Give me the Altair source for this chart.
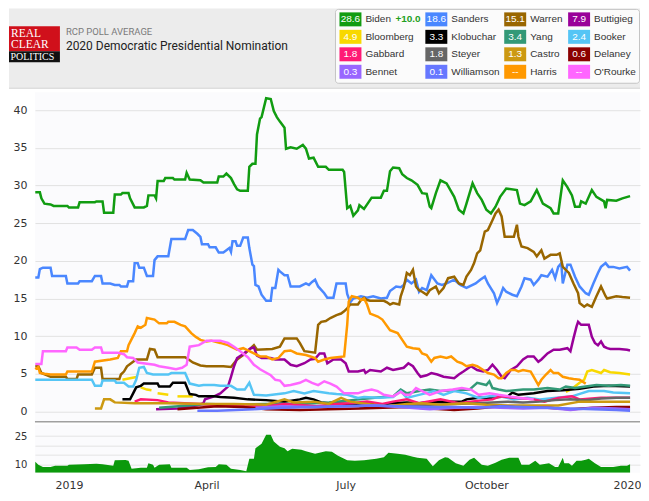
import altair as alt
import pandas as pd

# ------------------------------------------------------------------ data
NAMES = ["Biden", "Sanders", "Warren", "Buttigieg",
         "Bloomberg", "Klobuchar", "Yang", "Booker",
         "Gabbard", "Steyer", "Castro", "Delaney",
         "Bennet", "Williamson", "Harris", "O'Rourke"]
END_LABELS = ["28.6", "18.6", "15.1", "7.9",
              "4.9", "3.3", "3.4", "2.4",
              "1.8", "1.8", "1.3", "0.6",
              "0.3", "0.1", "--", "--"]
COLORS = ["#119c11", "#4a87ff", "#996600", "#990099",
          "#f8d800", "#000000", "#339977", "#55c5f5",
          "#ff1a75", "#666666", "#cc9911", "#8b0000",
          "#9966ff", "#6677ff", "#ff9900", "#ff66ff"]
LEAD_LABEL = "+10.0"
X_TICKS = ["2019-01-01", "2019-04-01", "2019-07-01", "2019-10-01", "2020-01-01"]
Y_TICKS = [0, 5, 10, 15, 20, 25, 30, 35, 40]
NAV_TICKS = [10, 15, 20, 25]

BIDEN = [("2018-12-10",29.1),("2018-12-13",29.1),("2018-12-14",28.3),("2018-12-16",27.6),("2018-12-20",27.5),("2018-12-22",27.3),("2018-12-31",27.3),("2019-01-01",27.1),("2019-01-07",27.1),("2019-01-08",27.8),("2019-01-18",27.8),("2019-01-19",27.9),("2019-01-23",27.9),("2019-01-24",26.4),("2019-01-30",26.4),("2019-01-31",28.8),("2019-02-04",28.8),("2019-02-05",29.0),("2019-02-09",29.0),("2019-02-10",28.3),("2019-02-13",27.1),("2019-02-19",27.1),("2019-02-21",27.3),("2019-02-22",28.7),("2019-02-26",28.7),("2019-02-27",28.3),("2019-02-28",30.6),("2019-03-04",30.6),("2019-03-05",31.0),("2019-03-10",31.0),("2019-03-11",30.8),("2019-03-18",30.8),("2019-03-19",31.7),("2019-03-21",30.8),("2019-03-28",30.7),("2019-03-30",30.4),("2019-04-08",30.4),("2019-04-09",31.2),("2019-04-12",31.2),("2019-04-14",31.6),("2019-04-17",31.0),("2019-04-19",30.2),("2019-04-21",29.5),("2019-04-23",29.3),("2019-04-28",29.3),("2019-04-29",32.5),("2019-05-01",32.9),("2019-05-03",32.9),("2019-05-04",36.8),("2019-05-06",38.9),("2019-05-07",39.1),("2019-05-10",41.6),("2019-05-13",41.5),("2019-05-15",39.9),("2019-05-17",39.1),("2019-05-19",38.5),("2019-05-22",37.7),("2019-05-23",34.9),("2019-05-26",35.1),("2019-05-30",34.9),("2019-06-03",35.4),("2019-06-05",34.9),("2019-06-07",33.6),("2019-06-10",33.7),("2019-06-13",32.5),("2019-06-18",32.5),("2019-06-20",32.1),("2019-06-29",32.1),("2019-06-30",31.8),("2019-07-02",27.0),("2019-07-04",27.3),("2019-07-06",26.0),("2019-07-09",26.7),("2019-07-10",27.4),("2019-07-13",26.9),("2019-07-18",28.4),("2019-07-24",28.4),("2019-07-26",29.3),("2019-07-28",29.3),("2019-07-30",31.9),("2019-08-01",32.4),("2019-08-05",32.3),("2019-08-07",31.5),("2019-08-10",31.0),("2019-08-13",30.7),("2019-08-17",30.1),("2019-08-20",29.0),("2019-08-23",28.9),("2019-08-25",27.2),("2019-08-26",27.0),("2019-08-29",29.0),("2019-09-01",30.7),("2019-09-05",30.3),("2019-09-10",28.5),("2019-09-13",26.8),("2019-09-16",26.3),("2019-09-18",27.6),("2019-09-22",30.3),("2019-09-25",29.0),("2019-09-28",28.1),("2019-10-01",26.8),("2019-10-04",26.3),("2019-10-07",27.2),("2019-10-10",28.5),("2019-10-14",29.6),("2019-10-21",29.4),("2019-10-23",27.6),("2019-10-26",27.4),("2019-10-30",27.9),("2019-11-03",29.4),("2019-11-05",28.5),("2019-11-07",27.6),("2019-11-12",27.0),("2019-11-14",26.3),("2019-11-17",26.3),("2019-11-20",30.7),("2019-11-23",29.8),("2019-11-26",28.7),("2019-11-28",27.2),("2019-12-01",27.2),("2019-12-02",27.9),("2019-12-05",27.6),("2019-12-09",29.4),("2019-12-12",28.5),("2019-12-17",27.9),("2019-12-18",27.0),("2019-12-19",28.1),("2019-12-25",28.0),("2019-12-29",28.3),("2020-01-03",28.6)]

SANDERS = [("2018-12-10",17.8),("2018-12-12",17.8),("2018-12-13",18.9),("2018-12-15",19.1),("2018-12-20",19.1),("2018-12-21",18.0),("2018-12-30",18.0),("2018-12-31",17.0),("2019-01-07",17.0),("2019-01-08",17.3),("2019-01-16",17.3),("2019-01-18",18.0),("2019-01-22",18.0),("2019-01-23",17.0),("2019-01-28",17.0),("2019-01-31",16.8),("2019-02-03",16.8),("2019-02-04",16.6),("2019-02-08",16.6),("2019-02-09",17.3),("2019-02-12",17.3),("2019-02-13",19.7),("2019-02-15",19.7),("2019-02-16",19.1),("2019-02-19",19.1),("2019-02-21",18.0),("2019-02-25",18.0),("2019-02-26",20.1),("2019-02-28",20.6),("2019-03-07",20.6),("2019-03-09",22.9),("2019-03-18",22.9),("2019-03-20",24.1),("2019-03-23",24.1),("2019-03-26",23.6),("2019-03-28",23.2),("2019-03-29",22.2),("2019-04-02",22.2),("2019-04-03",21.8),("2019-04-07",21.8),("2019-04-09",21.1),("2019-04-12",21.1),("2019-04-14",21.4),("2019-04-16",21.7),("2019-04-17",21.2),("2019-04-18",22.6),("2019-04-20",22.6),("2019-04-21",22.0),("2019-04-23",22.0),("2019-04-25",23.1),("2019-04-28",23.1),("2019-04-29",21.7),("2019-05-01",19.5),("2019-05-02",19.3),("2019-05-03",16.8),("2019-05-05",16.6),("2019-05-07",15.5),("2019-05-10",14.7),("2019-05-13",14.7),("2019-05-14",16.4),("2019-05-16",16.4),("2019-05-18",18.8),("2019-05-19",18.6),("2019-05-22",18.1),("2019-05-24",18.1),("2019-05-26",16.6),("2019-06-01",16.6),("2019-06-05",17.0),("2019-06-07",16.8),("2019-06-09",17.2),("2019-06-11",17.5),("2019-06-13",16.6),("2019-06-17",15.7),("2019-06-19",15.1),("2019-06-23",15.1),("2019-06-25",17.0),("2019-07-01",17.0),("2019-07-02",15.6),("2019-07-04",14.5),("2019-07-06",15.0),("2019-07-11",15.3),("2019-07-15",15.1),("2019-07-19",15.3),("2019-07-24",15.0),("2019-07-28",15.1),("2019-07-30",16.0),("2019-08-03",16.6),("2019-08-06",16.5),("2019-08-08",16.8),("2019-08-10",17.5),("2019-08-13",17.0),("2019-08-16",17.5),("2019-08-18",15.9),("2019-08-20",16.4),("2019-08-23",16.1),("2019-08-26",18.1),("2019-08-30",17.0),("2019-09-02",16.8),("2019-09-05",17.0),("2019-09-10",17.5),("2019-09-14",16.8),("2019-09-18",16.4),("2019-09-24",17.0),("2019-09-27",17.5),("2019-09-30",17.9),("2019-10-02",17.0),("2019-10-06",15.7),("2019-10-08",14.4),("2019-10-10",15.3),("2019-10-12",16.4),("2019-10-14",15.9),("2019-10-18",15.5),("2019-10-21",15.3),("2019-10-24",16.6),("2019-10-26",17.7),("2019-10-30",17.5),("2019-11-01",16.8),("2019-11-04",17.5),("2019-11-06",18.1),("2019-11-10",17.9),("2019-11-13",18.8),("2019-11-15",17.7),("2019-11-17",19.2),("2019-11-19",19.7),("2019-11-20",17.0),("2019-11-23",19.5),("2019-11-25",19.5),("2019-11-28",17.9),("2019-12-01",16.6),("2019-12-05",15.7),("2019-12-07",15.5),("2019-12-10",17.0),("2019-12-13",18.4),("2019-12-15",19.2),("2019-12-18",19.7),("2019-12-20",19.2),("2019-12-23",19.2),("2019-12-27",19.0),("2020-01-01",19.2),("2020-01-03",18.7)]

WARREN = [("2018-12-10",6.0),("2018-12-12",6.0),("2018-12-14",5.1),("2018-12-20",4.6),("2018-12-30",4.6),("2018-12-31",4.3),("2019-01-06",4.3),("2019-01-07",4.9),("2019-01-16",4.9),("2019-01-18",5.8),("2019-01-22",5.8),("2019-01-23",4.3),("2019-02-03",4.3),("2019-02-04",4.9),("2019-02-06",5.3),("2019-02-08",6.0),("2019-02-12",6.6),("2019-02-14",6.9),("2019-02-21",6.9),("2019-02-23",8.3),("2019-02-26",8.2),("2019-02-28",7.2),("2019-03-18",7.2),("2019-03-21",6.8),("2019-03-23",6.5),("2019-03-28",6.1),("2019-04-01",6.0),("2019-04-12",6.0),("2019-04-17",5.9),("2019-04-21",6.9),("2019-04-25",7.5),("2019-04-30",8.4),("2019-05-02",8.8),("2019-05-04",8.2),("2019-05-14",8.3),("2019-05-19",8.6),("2019-05-22",9.7),("2019-05-30",9.7),("2019-06-01",9.1),("2019-06-04",8.0),("2019-06-11",7.8),("2019-06-13",11.5),("2019-06-15",11.9),("2019-06-18",12.0),("2019-06-21",12.4),("2019-06-25",12.8),("2019-06-28",13.0),("2019-06-30",13.3),("2019-07-02",13.7),("2019-07-04",14.2),("2019-07-09",14.2),("2019-07-11",14.8),("2019-07-13",15.1),("2019-07-15",14.8),("2019-07-17",14.7),("2019-07-26",14.7),("2019-07-28",14.5),("2019-07-30",14.2),("2019-08-01",14.4),("2019-08-05",14.2),("2019-08-06",15.3),("2019-08-08",16.5),("2019-08-10",18.4),("2019-08-12",18.1),("2019-08-14",18.8),("2019-08-16",16.6),("2019-08-18",16.1),("2019-08-20",15.9),("2019-08-23",15.5),("2019-08-25",16.1),("2019-08-29",16.6),("2019-08-31",15.7),("2019-09-03",16.4),("2019-09-06",17.7),("2019-09-10",17.9),("2019-09-13",17.0),("2019-09-16",16.8),("2019-09-18",17.9),("2019-09-21",18.8),("2019-09-23",19.7),("2019-09-25",21.0),("2019-09-27",21.4),("2019-09-30",23.9),("2019-10-02",24.1),("2019-10-05",25.4),("2019-10-07",26.3),("2019-10-09",26.8),("2019-10-11",25.9),("2019-10-13",23.2),("2019-10-19",23.2),("2019-10-21",24.8),("2019-10-22",23.2),("2019-10-24",21.9),("2019-10-28",21.7),("2019-11-01",21.2),("2019-11-03",20.6),("2019-11-06",21.4),("2019-11-08",20.3),("2019-11-12",20.8),("2019-11-16",20.8),("2019-11-18",21.0),("2019-11-20",19.2),("2019-11-24",18.4),("2019-11-27",17.0),("2019-11-30",15.7),("2019-12-01",14.4),("2019-12-04",13.9),("2019-12-06",14.2),("2019-12-09",13.9),("2019-12-12",15.3),("2019-12-15",16.6),("2019-12-18",15.3),("2019-12-19",15.0),("2019-12-25",15.3),("2019-12-29",15.2),("2020-01-03",15.1)]

BUTTIGIEG = [("2019-02-27",0.3),("2019-03-13",0.4),("2019-03-26",0.8),("2019-03-30",1.1),("2019-03-31",1.6),("2019-04-06",2.0),("2019-04-10",2.4),("2019-04-15",3.3),("2019-04-17",4.6),("2019-04-19",6.0),("2019-04-21",7.1),("2019-04-24",7.5),("2019-04-30",8.4),("2019-05-02",8.5),("2019-05-04",7.4),("2019-05-07",7.1),("2019-05-13",7.1),("2019-05-16",6.9),("2019-05-22",6.9),("2019-05-26",6.2),("2019-05-30",6.0),("2019-06-04",6.4),("2019-06-08",6.9),("2019-06-11",7.0),("2019-06-14",7.7),("2019-06-17",7.7),("2019-06-19",6.4),("2019-06-23",6.9),("2019-06-28",6.9),("2019-07-01",6.4),("2019-07-03",5.3),("2019-07-09",5.3),("2019-07-13",5.5),("2019-07-14",5.1),("2019-07-17",5.5),("2019-07-24",5.3),("2019-07-28",5.8),("2019-08-01",5.5),("2019-08-08",5.8),("2019-08-11",6.4),("2019-08-14",6.0),("2019-08-17",5.1),("2019-08-19",4.6),("2019-08-23",4.8),("2019-08-26",5.1),("2019-08-30",4.9),("2019-09-03",4.6),("2019-09-10",4.4),("2019-09-13",4.9),("2019-09-16",5.3),("2019-09-21",6.0),("2019-09-25",5.5),("2019-09-29",5.3),("2019-10-02",5.5),("2019-10-05",6.2),("2019-10-08",5.5),("2019-10-11",4.6),("2019-10-13",4.4),("2019-10-17",5.5),("2019-10-21",6.0),("2019-10-25",6.9),("2019-10-28",7.3),("2019-11-01",7.3),("2019-11-04",6.6),("2019-11-06",6.9),("2019-11-10",7.7),("2019-11-14",8.2),("2019-11-18",8.2),("2019-11-23",8.4),("2019-11-25",8.0),("2019-11-27",9.7),("2019-11-29",11.3),("2019-11-30",11.9),("2019-12-02",11.5),("2019-12-07",11.5),("2019-12-09",9.9),("2019-12-11",9.1),("2019-12-13",8.8),("2019-12-15",9.3),("2019-12-17",8.6),("2019-12-19",8.4),("2019-12-21",8.3),("2019-12-27",8.3),("2020-01-01",8.2),("2020-01-03",8.1)]

BLOOMBERG_SEGMENTS = [
    [("2019-02-05",4.2),("2019-02-10",4.4),("2019-02-15",4.6)],
    [("2019-02-17",3.2),("2019-02-21",2.9),("2019-02-24",2.8)],
    [("2019-02-28",2.4),("2019-03-07",2.2)],
    [("2019-03-13",2.0),("2019-03-23",2.0)],
    [("2019-11-22",2.6),("2019-11-26",3.0),("2019-12-01",3.8),("2019-12-04",4.2),("2019-12-06",5.3),("2019-12-09",5.5),("2019-12-12",5.3),("2019-12-15",5.1),("2019-12-17",5.5),("2019-12-21",5.2),("2019-12-27",5.1),("2020-01-03",4.9)],
]

KLOBUCHAR = [("2019-02-05",1.6),("2019-02-10",1.6),("2019-02-12",2.4),("2019-02-14",3.2),("2019-02-17",3.4),("2019-02-19",3.7),("2019-02-28",3.7),("2019-03-01",3.3),("2019-03-08",3.3),("2019-03-10",3.8),("2019-03-18",3.8),("2019-03-21",2.3),("2019-03-25",2.2),("2019-03-27",2.0),("2019-04-06",2.0),("2019-04-10",1.9),("2019-04-19",1.8),("2019-04-28",1.6),("2019-05-10",1.5),("2019-05-22",1.3),("2019-06-01",1.6),("2019-06-05",1.8),("2019-06-10",1.6),("2019-06-15",1.2),("2019-06-20",1.1),("2019-07-04",1.0),("2019-07-15",1.1),("2019-07-24",0.9),("2019-08-01",1.1),("2019-08-10",1.2),("2019-08-18",1.1),("2019-08-28",1.3),("2019-09-15",1.3),("2019-09-18",1.6),("2019-09-26",1.8),("2019-10-03",1.8),("2019-10-15",2.0),("2019-10-18",2.5),("2019-10-22",2.2),("2019-11-01",2.4),("2019-11-10",2.7),("2019-11-20",2.8),("2019-12-01",3.0),("2019-12-10",3.3),("2019-12-20",3.4),("2020-01-03",3.3)]

YANG = [("2019-03-01",0.5),("2019-03-20",0.8),("2019-04-01",1.0),("2019-04-20",0.9),("2019-05-10",1.0),("2019-06-01",1.0),("2019-06-20",1.2),("2019-07-05",1.5),("2019-07-20",1.8),("2019-08-01",2.0),("2019-08-06",2.9),("2019-08-10",2.4),("2019-08-18",2.7),("2019-08-25",2.9),("2019-09-01",2.7),("2019-09-20",2.9),("2019-09-25",3.8),("2019-10-01",3.5),("2019-10-03",4.0),("2019-10-05",3.1),("2019-10-09",2.9),("2019-10-14",2.7),("2019-10-25",2.9),("2019-11-01",2.9),("2019-11-10",3.1),("2019-11-18",2.9),("2019-11-22",3.3),("2019-11-28",3.1),("2019-12-05",3.3),("2019-12-12",3.5),("2019-12-20",3.4),("2019-12-28",3.5),("2020-01-03",3.4)]

BOOKER = [("2018-12-10",4.2),("2019-01-16",4.2),("2019-01-18",3.4),("2019-01-22",3.4),("2019-01-23",4.1),("2019-01-31",4.1),("2019-02-01",3.8),("2019-02-06",3.8),("2019-02-09",3.3),("2019-02-12",3.3),("2019-02-14",4.2),("2019-02-16",5.8),("2019-02-19",5.9),("2019-02-21",5.1),("2019-02-25",4.9),("2019-03-07",4.9),("2019-03-09",5.1),("2019-03-18",5.1),("2019-03-21",3.7),("2019-03-27",3.4),("2019-03-30",3.5),("2019-04-06",3.5),("2019-04-10",3.4),("2019-04-17",3.4),("2019-04-21",2.9),("2019-04-26",2.9),("2019-04-29",3.8),("2019-05-02",2.2),("2019-05-10",2.1),("2019-05-22",2.4),("2019-05-28",2.7),("2019-06-04",2.4),("2019-06-10",2.7),("2019-06-20",2.4),("2019-06-25",2.3),("2019-07-02",2.2),("2019-07-09",1.8),("2019-07-13",1.9),("2019-07-22",1.8),("2019-08-01",1.9),("2019-08-06",2.7),("2019-08-10",1.8),("2019-08-18",2.2),("2019-08-28",2.7),("2019-09-03",2.2),("2019-09-10",2.7),("2019-09-18",2.4),("2019-09-26",1.8),("2019-10-03",2.0),("2019-10-10",2.0),("2019-10-19",1.6),("2019-10-28",1.8),("2019-11-05",1.6),("2019-11-16",1.8),("2019-11-26",2.0),("2019-12-07",2.7),("2019-12-17",2.7),("2019-12-23",2.5),("2020-01-03",2.4)]

GABBARD = [("2019-02-13",1.3),("2019-02-17",1.6),("2019-02-28",1.5),("2019-03-07",1.2),("2019-03-28",1.0),("2019-04-10",0.8),("2019-04-20",0.7),("2019-05-10",0.7),("2019-05-22",1.0),("2019-06-05",0.8),("2019-06-12",0.7),("2019-06-25",1.0),("2019-07-05",1.1),("2019-07-15",1.3),("2019-07-25",1.0),("2019-08-01",1.3),("2019-08-10",1.6),("2019-08-18",1.1),("2019-09-01",1.6),("2019-09-13",1.1),("2019-09-25",1.4),("2019-10-05",1.6),("2019-10-10",2.0),("2019-10-20",1.8),("2019-11-01",1.6),("2019-11-08",1.3),("2019-11-17",1.8),("2019-11-26",2.0),("2019-12-01",1.6),("2019-12-15",1.8),("2019-12-25",1.8),("2020-01-03",1.8)]

STEYER = [("2019-07-10",0.6),("2019-07-25",0.7),("2019-08-10",0.8),("2019-08-25",0.9),("2019-09-10",1.0),("2019-09-25",1.1),("2019-10-05",1.2),("2019-10-15",1.3),("2019-10-25",1.2),("2019-11-05",1.3),("2019-11-15",1.5),("2019-11-25",1.6),("2019-12-05",1.5),("2019-12-15",1.7),("2019-12-25",1.8),("2020-01-03",1.8)]

CASTRO = [("2019-01-18",0.4),("2019-01-22",0.4),("2019-01-24",1.6),("2019-01-28",1.6),("2019-01-31",1.2),("2019-02-13",1.1),("2019-03-07",1.1),("2019-04-01",1.0),("2019-04-19",1.0),("2019-05-10",0.9),("2019-05-22",1.6),("2019-05-28",1.2),("2019-06-10",1.3),("2019-06-20",1.0),("2019-06-28",1.8),("2019-07-04",1.3),("2019-07-15",1.0),("2019-07-28",0.7),("2019-08-10",1.0),("2019-08-20",1.1),("2019-09-01",0.9),("2019-09-18",1.1),("2019-10-01",0.9),("2019-10-15",0.8),("2019-11-01",0.8),("2019-11-17",0.8),("2019-12-01",1.3),("2019-12-15",1.3),("2020-01-03",1.3)]

DELANEY = [("2019-03-13",0.3),("2019-03-26",0.5),("2019-04-08",0.7),("2019-04-25",0.6),("2019-05-10",0.3),("2019-06-01",0.2),("2019-06-20",0.3),("2019-07-10",0.4),("2019-08-10",0.6),("2019-08-25",0.4),("2019-09-10",0.2),("2019-09-25",0.4),("2019-10-10",0.7),("2019-10-25",0.5),("2019-11-10",0.5),("2019-11-25",0.3),("2019-12-10",0.5),("2019-12-25",0.6),("2020-01-03",0.6)]

BENNET = [("2019-05-03",0.5),("2019-05-20",0.7),("2019-06-10",0.6),("2019-07-01",0.7),("2019-07-20",0.8),("2019-08-05",0.6),("2019-08-25",0.3),("2019-09-10",0.5),("2019-09-25",0.6),("2019-10-10",0.5),("2019-10-25",0.4),("2019-11-10",0.5),("2019-11-25",0.2),("2019-12-10",0.5),("2019-12-25",0.4),("2020-01-03",0.3)]

WILLIAMSON = [("2019-03-26",0.1),("2019-04-08",0.1),("2019-04-20",0.2),("2019-05-02",0.3),("2019-05-20",0.5),("2019-06-10",0.6),("2019-07-01",0.7),("2019-07-20",0.8),("2019-08-05",0.7),("2019-08-25",0.6),("2019-09-10",0.6),("2019-09-25",0.5),("2019-10-10",0.7),("2019-10-25",0.6),("2019-11-10",0.5),("2019-11-25",0.4),("2019-12-10",0.3),("2019-12-25",0.2),("2020-01-03",0.1)]

HARRIS = [("2018-12-10",5.6),("2018-12-12",5.9),("2018-12-13",5.1),("2018-12-16",5.0),("2018-12-20",4.9),("2018-12-30",4.9),("2018-12-31",5.3),("2019-01-16",5.3),("2019-01-18",6.6),("2019-01-28",6.9),("2019-02-02",7.1),("2019-02-04",8.0),("2019-02-08",8.0),("2019-02-09",8.8),("2019-02-13",10.4),("2019-02-15",11.3),("2019-02-17",11.1),("2019-02-20",11.5),("2019-02-21",12.4),("2019-02-26",12.2),("2019-03-01",11.7),("2019-03-06",11.7),("2019-03-07",11.9),("2019-03-11",11.9),("2019-03-15",11.5),("2019-03-18",11.3),("2019-03-22",10.4),("2019-03-25",9.9),("2019-03-28",9.5),("2019-04-01",9.3),("2019-04-04",9.4),("2019-04-10",9.1),("2019-04-15",8.8),("2019-04-19",8.4),("2019-04-21",8.2),("2019-04-25",8.4),("2019-04-29",8.0),("2019-05-02",7.7),("2019-05-06",7.3),("2019-05-10",7.3),("2019-05-14",6.9),("2019-05-18",7.1),("2019-05-22",8.0),("2019-05-26",8.1),("2019-05-30",7.7),("2019-06-05",7.5),("2019-06-08",7.3),("2019-06-11",7.1),("2019-06-13",6.6),("2019-06-17",6.9),("2019-06-21",7.1),("2019-06-30",7.3),("2019-07-02",11.5),("2019-07-03",14.6),("2019-07-05",15.3),("2019-07-09",15.1),("2019-07-11",14.8),("2019-07-13",15.0),("2019-07-15",14.2),("2019-07-17",13.0),("2019-07-22",12.6),("2019-07-25",12.2),("2019-07-30",10.8),("2019-08-04",10.4),("2019-08-07",9.5),("2019-08-10",8.6),("2019-08-14",8.4),("2019-08-18",8.3),("2019-08-20",7.7),("2019-08-23",7.5),("2019-08-26",6.6),("2019-08-28",7.1),("2019-09-01",7.3),("2019-09-05",7.1),("2019-09-08",7.3),("2019-09-12",6.6),("2019-09-15",6.4),("2019-09-18",6.0),("2019-09-22",6.2),("2019-09-25",6.0),("2019-09-29",5.5),("2019-10-02",5.1),("2019-10-06",4.9),("2019-10-09",4.4),("2019-10-11",4.4),("2019-10-14",5.1),("2019-10-17",5.5),("2019-10-20",5.5),("2019-10-22",5.3),("2019-10-25",5.5),("2019-10-30",5.3),("2019-11-01",4.6),("2019-11-04",3.5),("2019-11-06",4.2),("2019-11-09",4.9),("2019-11-12",5.5),("2019-11-14",5.1),("2019-11-17",5.1),("2019-11-20",4.6),("2019-11-24",4.4),("2019-11-27",4.3),("2019-12-01",4.2),("2019-12-05",3.7)]

OROURKE = [("2018-12-10",6.3),("2018-12-14",6.3),("2018-12-15",8.0),("2018-12-30",8.0),("2018-12-31",8.5),("2019-01-06",8.5),("2019-01-08",8.2),("2019-01-16",8.2),("2019-01-18",8.5),("2019-01-22",8.5),("2019-01-23",7.8),("2019-02-02",7.8),("2019-02-04",7.7),("2019-02-06",7.6),("2019-02-08",7.2),("2019-02-12",7.1),("2019-02-15",6.5),("2019-02-26",6.2),("2019-03-01",6.0),("2019-03-07",5.8),("2019-03-12",5.6),("2019-03-16",5.8),("2019-03-19",6.2),("2019-03-21",8.6),("2019-03-27",8.8),("2019-04-01",9.4),("2019-04-10",9.4),("2019-04-15",9.1),("2019-04-19",8.6),("2019-04-23",8.0),("2019-04-28",7.2),("2019-05-02",6.2),("2019-05-06",5.6),("2019-05-13",4.8),("2019-05-16",4.2),("2019-05-19",4.1),("2019-05-22",3.4),("2019-05-26",3.5),("2019-06-01",3.8),("2019-06-05",4.2),("2019-06-09",3.8),("2019-06-13",3.5),("2019-06-17",4.0),("2019-06-21",3.7),("2019-06-25",3.3),("2019-06-30",2.4),("2019-07-09",2.4),("2019-07-13",2.7),("2019-07-18",2.9),("2019-07-22",2.7),("2019-07-26",2.2),("2019-08-01",2.0),("2019-08-06",2.6),("2019-08-09",2.2),("2019-08-12",2.2),("2019-08-16",3.1),("2019-08-18",2.9),("2019-08-25",2.2),("2019-09-01",2.7),("2019-09-09",2.9),("2019-09-15",3.1),("2019-09-21",2.9),("2019-09-26",2.2),("2019-10-03",2.4),("2019-10-09",2.2),("2019-10-16",2.0),("2019-10-22",1.8),("2019-11-01",1.6)]

# Biden's lead over the runner-up (navigator panel)
LEAD = [("2018-12-10",11.3),("2018-12-12",9.7),("2018-12-15",8.5),("2018-12-20",8.5),("2018-12-23",9.2),("2018-12-31",9.2),("2019-01-01",9.7),("2019-01-11",10.0),("2019-01-19",10.2),("2019-01-23",10.0),("2019-01-30",9.2),("2019-01-31",12.1),("2019-02-07",12.3),("2019-02-09",11.8),("2019-02-11",7.6),("2019-02-17",8.1),("2019-02-21",8.1),("2019-02-22",10.5),("2019-02-25",9.7),("2019-02-26",8.1),("2019-03-01",9.7),("2019-03-08",10.0),("2019-03-09",8.1),("2019-03-19",8.1),("2019-03-21",6.9),("2019-03-27",7.3),("2019-04-02",8.4),("2019-04-07",8.5),("2019-04-09",10.0),("2019-04-14",9.7),("2019-04-17",7.6),("2019-04-23",6.9),("2019-04-27",6.3),("2019-04-29",12.9),("2019-05-02",12.9),("2019-05-03",18.5),("2019-05-07",21.0),("2019-05-10",25.8),("2019-05-13",25.8),("2019-05-15",22.1),("2019-05-19",19.4),("2019-05-22",18.5),("2019-05-24",16.9),("2019-05-27",18.2),("2019-06-02",17.7),("2019-06-05",16.9),("2019-06-11",15.6),("2019-06-18",16.9),("2019-06-22",16.6),("2019-06-26",14.5),("2019-07-02",12.1),("2019-07-07",11.8),("2019-07-13",12.1),("2019-07-21",12.9),("2019-07-26",13.7),("2019-07-29",16.1),("2019-08-04",15.6),("2019-08-09",15.0),("2019-08-14",14.0),("2019-08-17",13.4),("2019-08-23",12.9),("2019-08-27",8.9),("2019-08-31",12.1),("2019-09-04",13.7),("2019-09-06",13.5),("2019-09-11",10.5),("2019-09-16",9.2),("2019-09-20",12.4),("2019-09-23",13.4),("2019-09-28",9.7),("2019-10-02",9.2),("2019-10-07",10.8),("2019-10-11",12.4),("2019-10-16",13.4),("2019-10-22",13.4),("2019-10-24",9.7),("2019-10-29",9.7),("2019-11-02",11.8),("2019-11-05",9.7),("2019-11-11",10.5),("2019-11-15",8.5),("2019-11-17",8.5),("2019-11-20",13.4),("2019-11-21",10.5),("2019-11-24",10.5),("2019-11-26",9.2),("2019-11-29",11.8),("2019-12-02",11.8),("2019-12-05",12.4),("2019-12-07",12.9),("2019-12-11",10.5),("2019-12-15",8.5),("2019-12-23",8.5),("2019-12-28",9.2),("2020-01-01",9.2),("2020-01-03",10.0)]

SERIES = {
    "Biden": [BIDEN], "Sanders": [SANDERS], "Warren": [WARREN], "Buttigieg": [BUTTIGIEG],
    "Bloomberg": BLOOMBERG_SEGMENTS, "Klobuchar": [KLOBUCHAR], "Yang": [YANG], "Booker": [BOOKER],
    "Gabbard": [GABBARD], "Steyer": [STEYER], "Castro": [CASTRO], "Delaney": [DELANEY],
    "Bennet": [BENNET], "Williamson": [WILLIAMSON], "Harris": [HARRIS], "O'Rourke": [OROURKE],
}

# ------------------------------------------------------------------ tables
rows = []
for name in NAMES:
    for k, seg in enumerate(SERIES[name]):
        for d, v in seg:
            rows.append({"name": name, "seg": f"{name}-{k}", "date": d, "value": v})
lines_df = pd.DataFrame(rows)
lead_df = pd.DataFrame(LEAD, columns=["date", "lead"])


def ms(s):
    return int(pd.Timestamp(s, tz="UTC").value // 10**6)


X_DOMAIN = [ms("2018-12-09 19:00"), ms("2020-01-09 12:00")]
X_TICK_MS = [ms(t) for t in X_TICKS]
NAV_DOMAIN = [5.5, 31.1]

# layout (pixels)
W = 606
HDR_H = 82
MAIN_H = 330
NAV_H = 48
FONT = "DejaVu Sans"
SANS = "Liberation Sans"

# legend grid layout
COL_X = [305, 391, 470, 534]
ROW_Y = [11, 28.5, 46, 63.5]
BOX_W, BOX_H = 22, 14
leg = pd.DataFrame({
    "name": NAMES,
    "val": END_LABELS,
    "color": COLORS,
    "bx": [COL_X[i % 4] for i in range(len(NAMES))],
    "by": [ROW_Y[i // 4] for i in range(len(NAMES))],
})

one = pd.DataFrame({"a": [0]})
hx = alt.Scale(domain=[0, W], range=[0, W])
hy = alt.Scale(domain=[0, HDR_H], range=[0, HDR_H])

hdr_bg = alt.Chart(one).mark_rect(color="#ececec").encode(
    x=alt.value(-26), x2=alt.value(W), y=alt.value(0), y2=alt.value(80))
hdr_line = alt.Chart(one).mark_rule(color="#d4d4d4", strokeWidth=1).encode(
    x=alt.value(-26), x2=alt.value(W), y=alt.value(80))
logo_red = alt.Chart(one).mark_rect(color="#d0101b").encode(
    x=alt.value(-26), x2=alt.value(25), y=alt.value(18), y2=alt.value(43))
logo_blk = alt.Chart(one).mark_rect(color="#111111").encode(
    x=alt.value(-26), x2=alt.value(25), y=alt.value(43), y2=alt.value(54))
logo_t1 = alt.Chart(one).mark_text(text="REAL", align="left", baseline="middle", font="Liberation Serif",
                                   fontSize=11.5, color="white").encode(x=alt.value(-24), y=alt.value(26))
logo_t2 = alt.Chart(one).mark_text(text="CLEAR", align="left", baseline="middle", font="Liberation Serif",
                                   fontSize=11.5, color="white").encode(x=alt.value(-24), y=alt.value(36.5))
logo_t3 = alt.Chart(one).mark_text(text="POLITICS", align="left", baseline="middle", font="Liberation Serif",
                                   fontSize=10, color="white").encode(x=alt.value(-24.5), y=alt.value(48.8))
sub_t = alt.Chart(one).mark_text(text="RCP POLL AVERAGE", align="left", baseline="middle", font="Roboto",
                                 fontSize=9.5, color="#7a7a7a").encode(x=alt.value(31), y=alt.value(24))
title_t = alt.Chart(one).mark_text(text="2020 Democratic Presidential Nomination", align="left",
                                   baseline="middle", font="Roboto", fontSize=12,
                                   color="#222222").encode(x=alt.value(31), y=alt.value(37.5))
leg_frame = alt.Chart(one).mark_rect(fill="#fbfbfb", stroke="#c4c4c4", strokeWidth=1,
                                     cornerRadius=3).encode(
    x=alt.value(COL_X[0] - 4), x2=alt.value(W - 0.5), y=alt.value(1), y2=alt.value(75))

leg_base = alt.Chart(leg).transform_calculate(
    bx2=f"datum.bx + {BOX_W}", by1=f"datum.by - {BOX_H / 2}", by2=f"datum.by + {BOX_H / 2}",
    cx=f"datum.bx + {BOX_W / 2}", tx=f"datum.bx + {BOX_W + 4}")
leg_boxes = leg_base.mark_rect().encode(
    x=alt.X("bx:Q", scale=hx, axis=None), x2="bx2:Q",
    y=alt.Y("by1:Q", scale=hy, axis=None), y2="by2:Q",
    color=alt.Color("color:N", scale=None))
leg_vals = leg_base.mark_text(align="center", baseline="middle", font=SANS, fontSize=10,
                              color="white").encode(
    x=alt.X("cx:Q", scale=hx, axis=None), y=alt.Y("by:Q", scale=hy, axis=None), text="val:N")
leg_names = leg_base.mark_text(align="left", baseline="middle", font=SANS, fontSize=10,
                               color="#333333").encode(
    x=alt.X("tx:Q", scale=hx, axis=None), y=alt.Y("by:Q", scale=hy, axis=None), text="name:N")
lead_t = alt.Chart(one).mark_text(text=LEAD_LABEL, align="left", baseline="middle", font=SANS,
                                  fontSize=10, fontWeight="bold", color="#22a022").encode(
    x=alt.value(COL_X[0] + 56), y=alt.value(ROW_Y[0]))

header = alt.layer(hdr_bg, hdr_line, logo_red, logo_blk, logo_t1, logo_t2, logo_t3, sub_t, title_t,
                   leg_frame, leg_boxes, leg_vals, leg_names, lead_t).properties(
    width=W, height=HDR_H, view=alt.ViewBackground(stroke=None))

# ------------------------------------------------------------------ main panel
xs = alt.Scale(type="utc", domain=X_DOMAIN)
lines = alt.Chart(lines_df).mark_line(strokeWidth=2.5).encode(
    x=alt.X("date:T", scale=xs, axis=None),
    y=alt.Y("value:Q", scale=alt.Scale(domain=[-1.37, 42.4], nice=False, zero=False),
            axis=alt.Axis(values=Y_TICKS, ticks=False, domain=False, labelPadding=8,
                          labelFontSize=11, labelFont=FONT, labelColor="#333333",
                          gridColor="#e2e2e2", title=None)),
    color=alt.Color("name:N", scale=alt.Scale(domain=NAMES, range=COLORS), legend=None),
    detail="seg:N",
)
bottom_rule = alt.Chart(one).mark_rule(color="#a0a0a0", strokeWidth=1.5).encode(
    x=alt.value(0), x2=alt.value(W), y=alt.value(MAIN_H))
main = alt.layer(lines, bottom_rule).properties(
    width=W, height=MAIN_H, view=alt.ViewBackground(fill="#fbfbfd", stroke=None))

# ------------------------------------------------------------------ navigator
nav_area = alt.Chart(lead_df).mark_area(color="#0b990b", opacity=1, clip=True).encode(
    x=alt.X("date:T", scale=xs,
            axis=alt.Axis(values=X_TICK_MS, grid=False, ticks=False, domain=False, labelPadding=7,
                          labelFontSize=11, labelFont=FONT, labelColor="#333333", labelFlush=False,
                          title=None,
                          labelExpr="utcFormat(datum.value, '%m') == '01' ? utcFormat(datum.value, '%Y') : utcFormat(datum.value, '%B')")),
    y=alt.Y("lead:Q", scale=alt.Scale(domain=NAV_DOMAIN, nice=False, zero=False),
            axis=alt.Axis(values=NAV_TICKS, ticks=False, domain=False, labelPadding=8,
                          labelFontSize=10, labelFont=FONT, labelColor="#333333",
                          gridColor="#e4e4e4", title=None)),
    y2=alt.datum(NAV_DOMAIN[0]),
)
nav = nav_area.properties(width=W, height=NAV_H,
                          view=alt.ViewBackground(fill="#fbfbfd", stroke=None))

chart = alt.vconcat(header, main, nav, spacing=2).resolve_scale(
    x="independent", y="independent", color="independent"
).properties(padding=0, background="white").configure_view(stroke=None)

chart.save("out.html", embed_options={"renderer": "svg", "actions": False})
